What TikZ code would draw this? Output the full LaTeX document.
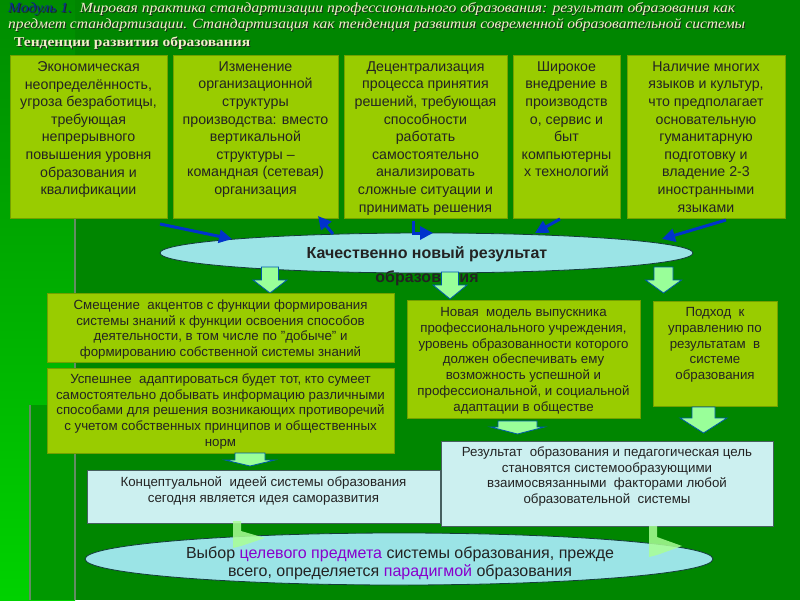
\documentclass[tikz,border=0pt]{standalone}
\usepackage{graphicx}
\usepackage{fontspec}
\setmainfont{Liberation Sans}
\newfontfamily\hdfont{Liberation Serif}
\usetikzlibrary{shapes.geometric,arrows.meta}
\definecolor{bggreen}{RGB}{0,134,0}
\definecolor{midgreen}{RGB}{0,152,0}
\definecolor{boxgreen}{RGB}{153,204,0}
\definecolor{boxedge}{RGB}{115,160,0}
\definecolor{cyanbox}{RGB}{204,240,240}
\definecolor{cyanedge}{RGB}{70,95,95}
\definecolor{ellfill}{RGB}{155,228,230}
\definecolor{elledge}{RGB}{20,60,60}
\definecolor{arrowblue}{RGB}{0,51,204}
\definecolor{lgreen}{RGB}{153,255,153}
\definecolor{lgreenb}{RGB}{170,255,150}
\definecolor{arredge}{RGB}{0,90,170}
\definecolor{purp}{RGB}{136,0,204}
\definecolor{hdcream}{RGB}{240,240,200}
\definecolor{hdshadow}{RGB}{30,40,30}
\definecolor{hdblue}{RGB}{10,40,150}
\definecolor{txt}{RGB}{35,35,35}
\definecolor{gline}{RGB}{100,140,100}
\newcommand\blockdown[6]{%
  \filldraw[blockarr] (#1-#3,#2) -- (#1+#3,#2) -- (#1+#3,#5) -- (#1+#4,#5) -- (#1,#6) -- (#1-#4,#5) -- (#1-#3,#5) -- cycle;}
\newcommand\hdlineA[1]{\resizebox{727pt}{\height}{\hdfont\itshape\fontsize{14}{16}\selectfont#1}}
\newcommand\hdlineB[1]{\resizebox{737pt}{\height}{\hdfont\itshape\fontsize{14}{16}\selectfont#1}}
\newcommand\hdlineC[1]{\resizebox{236pt}{\height}{\hdfont\bfseries\fontsize{13.5}{16}\selectfont#1}}
\begin{document}
\begin{tikzpicture}[x=1pt,y=-1pt,
  tbox/.style={draw=boxedge, fill=boxgreen, line width=0.8pt, inner sep=0pt, anchor=north west},
  cbox/.style={draw=cyanedge, fill=cyanbox, line width=0.8pt, inner sep=0pt, anchor=north west},
  ttext/.style={align=center, inner sep=0pt, anchor=north, text=txt, font=\fontsize{14.2}{17.6}\selectfont},
  mtext/.style={align=center, inner sep=0pt, anchor=north, text=txt, font=\fontsize{13.3}{15.7}\selectfont},
  ell/.style={ellipse, draw=elledge, fill=ellfill, line width=0.8pt, inner sep=0pt},
  bluearr/.style={draw=arrowblue, line width=3pt, -{Triangle[length=13pt,width=13pt]}},
  blockarr/.style={fill=lgreen, draw=arredge, line width=0.8pt},
  rarr/.style={fill=lgreenb, fill opacity=0.85, draw=none},
  hd/.style={inner sep=0pt, anchor=base west}
]
\useasboundingbox (0,0) rectangle (800,600);
% background
\fill[bggreen] (0,0) rectangle (800,600);
\shade[top color={rgb,255:red,0;green,140;blue,0}, bottom color={rgb,255:red,0;green,210;blue,0}] (0,0) rectangle (75,600);
\fill[midgreen] (30,405) rectangle (75,600);
\draw[gline, line width=2.5pt] (75,218) -- (75,600);
\draw[gline, line width=2.5pt] (30,405) -- (30,600);

% header (light text with dark shadow)
\node[hd, text=hdshadow] (h1s) at (9,13) {\hdlineA{Модуль 1.\ \ Мировая практика стандартизации профессионального образования: результат образования как}};
\node[hd] (h1) at (8,12) {\hdlineA{\textcolor{hdblue}{Модуль 1.}\ \ \textcolor{hdcream}{Мировая практика стандартизации профессионального образования: результат образования как}}};
\node[hd, text=hdshadow] (h2s) at (9,29.5) {\hdlineB{предмет стандартизации. Стандартизация как тенденция развития современной образовательной системы}};
\node[hd, text=hdcream] (h2) at (8,28.5) {\hdlineB{предмет стандартизации. Стандартизация как тенденция развития современной образовательной системы}};
\node[hd, text=hdshadow] (h3s) at (15,47.5) {\hdlineC{Тенденции развития образования}};
\node[hd, text=hdcream] (h3) at (14,46.5) {\hdlineC{Тенденции развития образования}};

% top boxes
\node[tbox, minimum width=157pt, minimum height=163pt] (b1) at (10,55) {};
\node[tbox, minimum width=165pt, minimum height=163pt] (b2) at (173,55) {};
\node[tbox, minimum width=163pt, minimum height=163pt] (b3) at (344,55) {};
\node[tbox, minimum width=107pt, minimum height=163pt] (b4) at (513,55) {};
\node[tbox, minimum width=158pt, minimum height=163pt] (b5) at (627,55) {};
\node[ttext] (b1t) at (88.5,61.3) {Экономическая\\неопределённость,\\угроза безработицы,\\требующая\\непрерывного\\повышения уровня\\образования и\\квалификации};
\node[ttext] (b2t) at (255.5,61.3) {Изменение\\организационной\\структуры\\производства: вместо\\вертикальной\\структуры –\\командная (сетевая)\\организация};
\node[ttext] (b3t) at (425.5,61.3) {Децентрализация\\процесса принятия\\решений, требующая\\способности\\работать\\самостоятельно\\анализировать\\сложные ситуации и\\принимать решения};
\node[ttext] (b4t) at (566.5,61.3) {Широкое\\внедрение в\\производств\\о, сервис и\\быт\\компьютерны\\х технологий};
\node[ttext] (b5t) at (706,61.3) {Наличие многих\\языков и культур,\\что предполагает\\основательную\\гуманитарную\\подготовку и\\владение 2-3\\иностранными\\языками};

% central ellipse
\node[ell, minimum width=533pt, minimum height=40pt] (e1) at (426.5,253) {};
\node[align=center, inner sep=0pt, anchor=north, text=txt, font=\bfseries\fontsize{16}{24}\selectfont] (e1t) at (427,246) {Качественно новый результат\\образования};

% blue arrows into the ellipse
\coordinate (a1s) at (160,224); \coordinate (a1e) at (232,239);
\coordinate (a2s) at (333,234); \coordinate (a2e) at (318,216);
\coordinate (a3s) at (413,221); \coordinate (a3e) at (433,233);
\coordinate (a4s) at (560,219); \coordinate (a4e) at (535,233);
\coordinate (a5s) at (726,220); \coordinate (a5e) at (662,239);
\draw[bluearr] (a1s) -- (a1e);
\draw[bluearr] (a2s) -- (a2e);
\draw[bluearr] (a3s) |- (a3e);
\draw[bluearr] (a4s) -- (a4e);
\draw[bluearr] (a5s) -- (a5e);

% down block arrows from the ellipse
\blockdown{270}{267}{8.5}{17}{280}{293}
\blockdown{450}{272}{8.5}{17}{285}{299}
\blockdown{663.5}{267}{9.5}{18}{280}{293}

% middle boxes
\node[tbox, minimum width=347pt, minimum height=69pt] (m1) at (47,293) {};
\node[tbox, minimum width=347pt, minimum height=85pt] (m2) at (47,368) {};
\node[tbox, minimum width=233pt, minimum height=118pt] (m3) at (407,300) {};
\node[tbox, minimum width=124pt, minimum height=105pt] (m4) at (653,301) {};
\node[mtext] (m1t) at (220.5,299.5) {Смещение\ \ акцентов с функции формирования\\системы знаний к функции освоения способов\\деятельности, в том числе по "добыче" и\\формированию собственной системы знаний};
\node[mtext] (m2t) at (220.5,373.5) {Успешнее\ \ адаптироваться будет тот, кто сумеет\\самостоятельно добывать информацию различными\\способами для решения возникающих противоречий\\с учетом собственных принципов и общественных\\норм};
\node[mtext] (m3t) at (523.5,307.5) {Новая\ \ модель выпускника\\профессионального учреждения,\\уровень образованности которого\\должен обеспечивать ему\\возможность успешной и\\профессиональной, и социальной\\адаптации в обществе};
\node[mtext] (m4t) at (715,307.5) {Подход\ \ к\\управлению по\\результатам\ \ в\\системе\\образования};

% block arrows below middle boxes
\blockdown{517.5}{421}{19.5}{27}{427}{434}
\blockdown{703.5}{407}{11.5}{23.5}{418}{433}
\blockdown{250}{453}{15}{25}{460}{466}

% lower boxes
\node[cbox, minimum width=353pt, minimum height=53pt] (c1) at (87,470) {};
\node[cbox, minimum width=332pt, minimum height=85pt] (c2) at (441,441) {};
\node[mtext] (c1t) at (263.5,476.5) {Концептуальной\ \ идеей системы образования\\сегодня является идея саморазвития};
\node[mtext] (c2t) at (607,446.5) {Результат\ \ образования и педагогическая цель\\становятся системообразующими\\взаимосвязанными\ \ факторами любой\\образовательной\ \ системы};

% bottom ellipse
\node[ell, minimum width=628pt, minimum height=52pt] (e2) at (399,559) {};
\node[align=center, inner sep=0pt, anchor=north, text=txt, font=\fontsize{16}{18}\selectfont] (e2t) at (400,547) {Выбор \textcolor{purp}{целевого предмета} системы образования, прежде\\всего, определяется \textcolor{purp}{парадигмой} образования};

% right-pointing arrows into the bottom ellipse
\fill[rarr] (233,521) -- (241,521) -- (241,531) -- (265,538) -- (241,546) -- (233,548) -- cycle;
\fill[rarr] (649,526) -- (657,526) -- (657,537) -- (682,546) -- (657,555) -- (649,557) -- cycle;
\end{tikzpicture}
\end{document}
